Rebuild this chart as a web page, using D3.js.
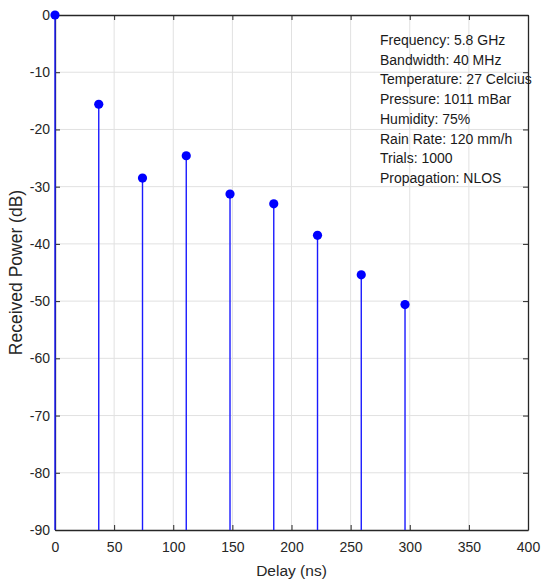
<!DOCTYPE html>
<html>
<head>
<meta charset="utf-8">
<script src="https://cdn.jsdelivr.net/npm/d3@7"></script>
<style>
  html, body { margin: 0; padding: 0; background: #fff; }
  svg text { font-family: Arial, "Liberation Sans", sans-serif; }
</style>
</head>
<body>
<svg id="chart" width="549" height="584"></svg>
<script>
// Power delay profile: path delays (ns) and received power (dB)
const delays = [0, 37, 74, 111, 148, 185, 222, 259, 296];
const powers = [0, -15.6, -28.5, -24.6, -31.3, -33.0, -38.5, -45.4, -50.6];

const xTicks = [0, 50, 100, 150, 200, 250, 300, 350, 400];
const yTicks = [0, -10, -20, -30, -40, -50, -60, -70, -80, -90];

const infoLines = [
  "Frequency: 5.8 GHz",
  "Bandwidth: 40 MHz",
  "Temperature: 27 Celcius",
  "Pressure: 1011 mBar",
  "Humidity: 75%",
  "Rain Rate: 120 mm/h",
  "Trials: 1000",
  "Propagation: NLOS"
];

const svg = d3.select("#chart");
const margin = { left: 55, top: 15, right: 21, bottom: 54 };
const W = 549, H = 584;
const x0 = margin.left, x1 = W - margin.right;
const y0 = margin.top, y1 = H - margin.bottom;

const x = d3.scaleLinear().domain([0, 400]).range([x0, x1]);
const y = d3.scaleLinear().domain([-90, 0]).range([y1, y0]);

const axisColor = "#262626";
const gridColor = "#e1e1e1";

// grid
const grid = svg.append("g");
grid.selectAll("line.gx").data(xTicks.slice(1, -1)).enter().append("line")
  .attr("x1", d => x(d)).attr("x2", d => x(d))
  .attr("y1", y0).attr("y2", y1)
  .attr("stroke", gridColor).attr("stroke-width", 1);
grid.selectAll("line.gy").data(yTicks.slice(1, -1)).enter().append("line")
  .attr("x1", x0).attr("x2", x1)
  .attr("y1", d => y(d)).attr("y2", d => y(d))
  .attr("stroke", gridColor).attr("stroke-width", 1);

// axes with inward ticks on all four sides
const tickLen = 5;
const gx = svg.append("g").attr("transform", `translate(0,${y1})`)
  .call(d3.axisBottom(x).tickValues(xTicks).tickSizeInner(-tickLen).tickSizeOuter(0).tickPadding(12));
const gy = svg.append("g").attr("transform", `translate(${x0},0)`)
  .call(d3.axisLeft(y).tickValues(yTicks).tickSizeInner(-tickLen).tickSizeOuter(0).tickPadding(5)
    .tickFormat(d => d === 0 ? "0" : String(d)));
const gxTop = svg.append("g").attr("transform", `translate(0,${y0})`)
  .call(d3.axisTop(x).tickValues(xTicks).tickSizeInner(-tickLen).tickSizeOuter(0).tickFormat(""));
const gyRight = svg.append("g").attr("transform", `translate(${x1},0)`)
  .call(d3.axisRight(y).tickValues(yTicks).tickSizeInner(-tickLen).tickSizeOuter(0).tickFormat(""));

[gx, gy, gxTop, gyRight].forEach(g => {
  g.select(".domain").attr("stroke", axisColor).attr("stroke-width", 1.3);
  g.selectAll(".tick line").attr("stroke", axisColor).attr("stroke-width", 1);
  g.selectAll(".tick text").attr("fill", axisColor).style("font-size", "14px")
    .style("font-family", "Arial, 'Liberation Sans', sans-serif");
});

// stems
const pts = delays.map((d, i) => ({ d, p: powers[i] }));
svg.append("g").selectAll("line").data(pts).enter().append("line")
  .attr("x1", d => x(d.d)).attr("x2", d => x(d.d))
  .attr("y1", y(-90)).attr("y2", d => y(d.p))
  .attr("stroke", "#1a1aff").attr("stroke-width", 1.4);

// markers
svg.append("g").selectAll("circle").data(pts).enter().append("circle")
  .attr("cx", d => x(d.d)).attr("cy", d => y(d.p)).attr("r", 4.6)
  .attr("fill", "#0000ff");

// simulation parameters
svg.append("g").selectAll("text").data(infoLines).enter().append("text")
  .attr("x", 380).attr("y", (d, i) => 45 + i * 19.7)
  .attr("fill", "#1a1a1a").style("font-size", "14px")
  .text(d => d);

// axis labels
svg.append("text")
  .attr("x", (x0 + x1) / 2).attr("y", 576)
  .attr("text-anchor", "middle").attr("fill", axisColor)
  .style("font-size", "15.5px").text("Delay (ns)");
svg.append("text")
  .attr("transform", `translate(22,${(y0 + y1) / 2}) rotate(-90)`)
  .attr("text-anchor", "middle").attr("fill", axisColor)
  .style("font-size", "17.5px").text("Received Power (dB)");
</script>
</body>
</html>
